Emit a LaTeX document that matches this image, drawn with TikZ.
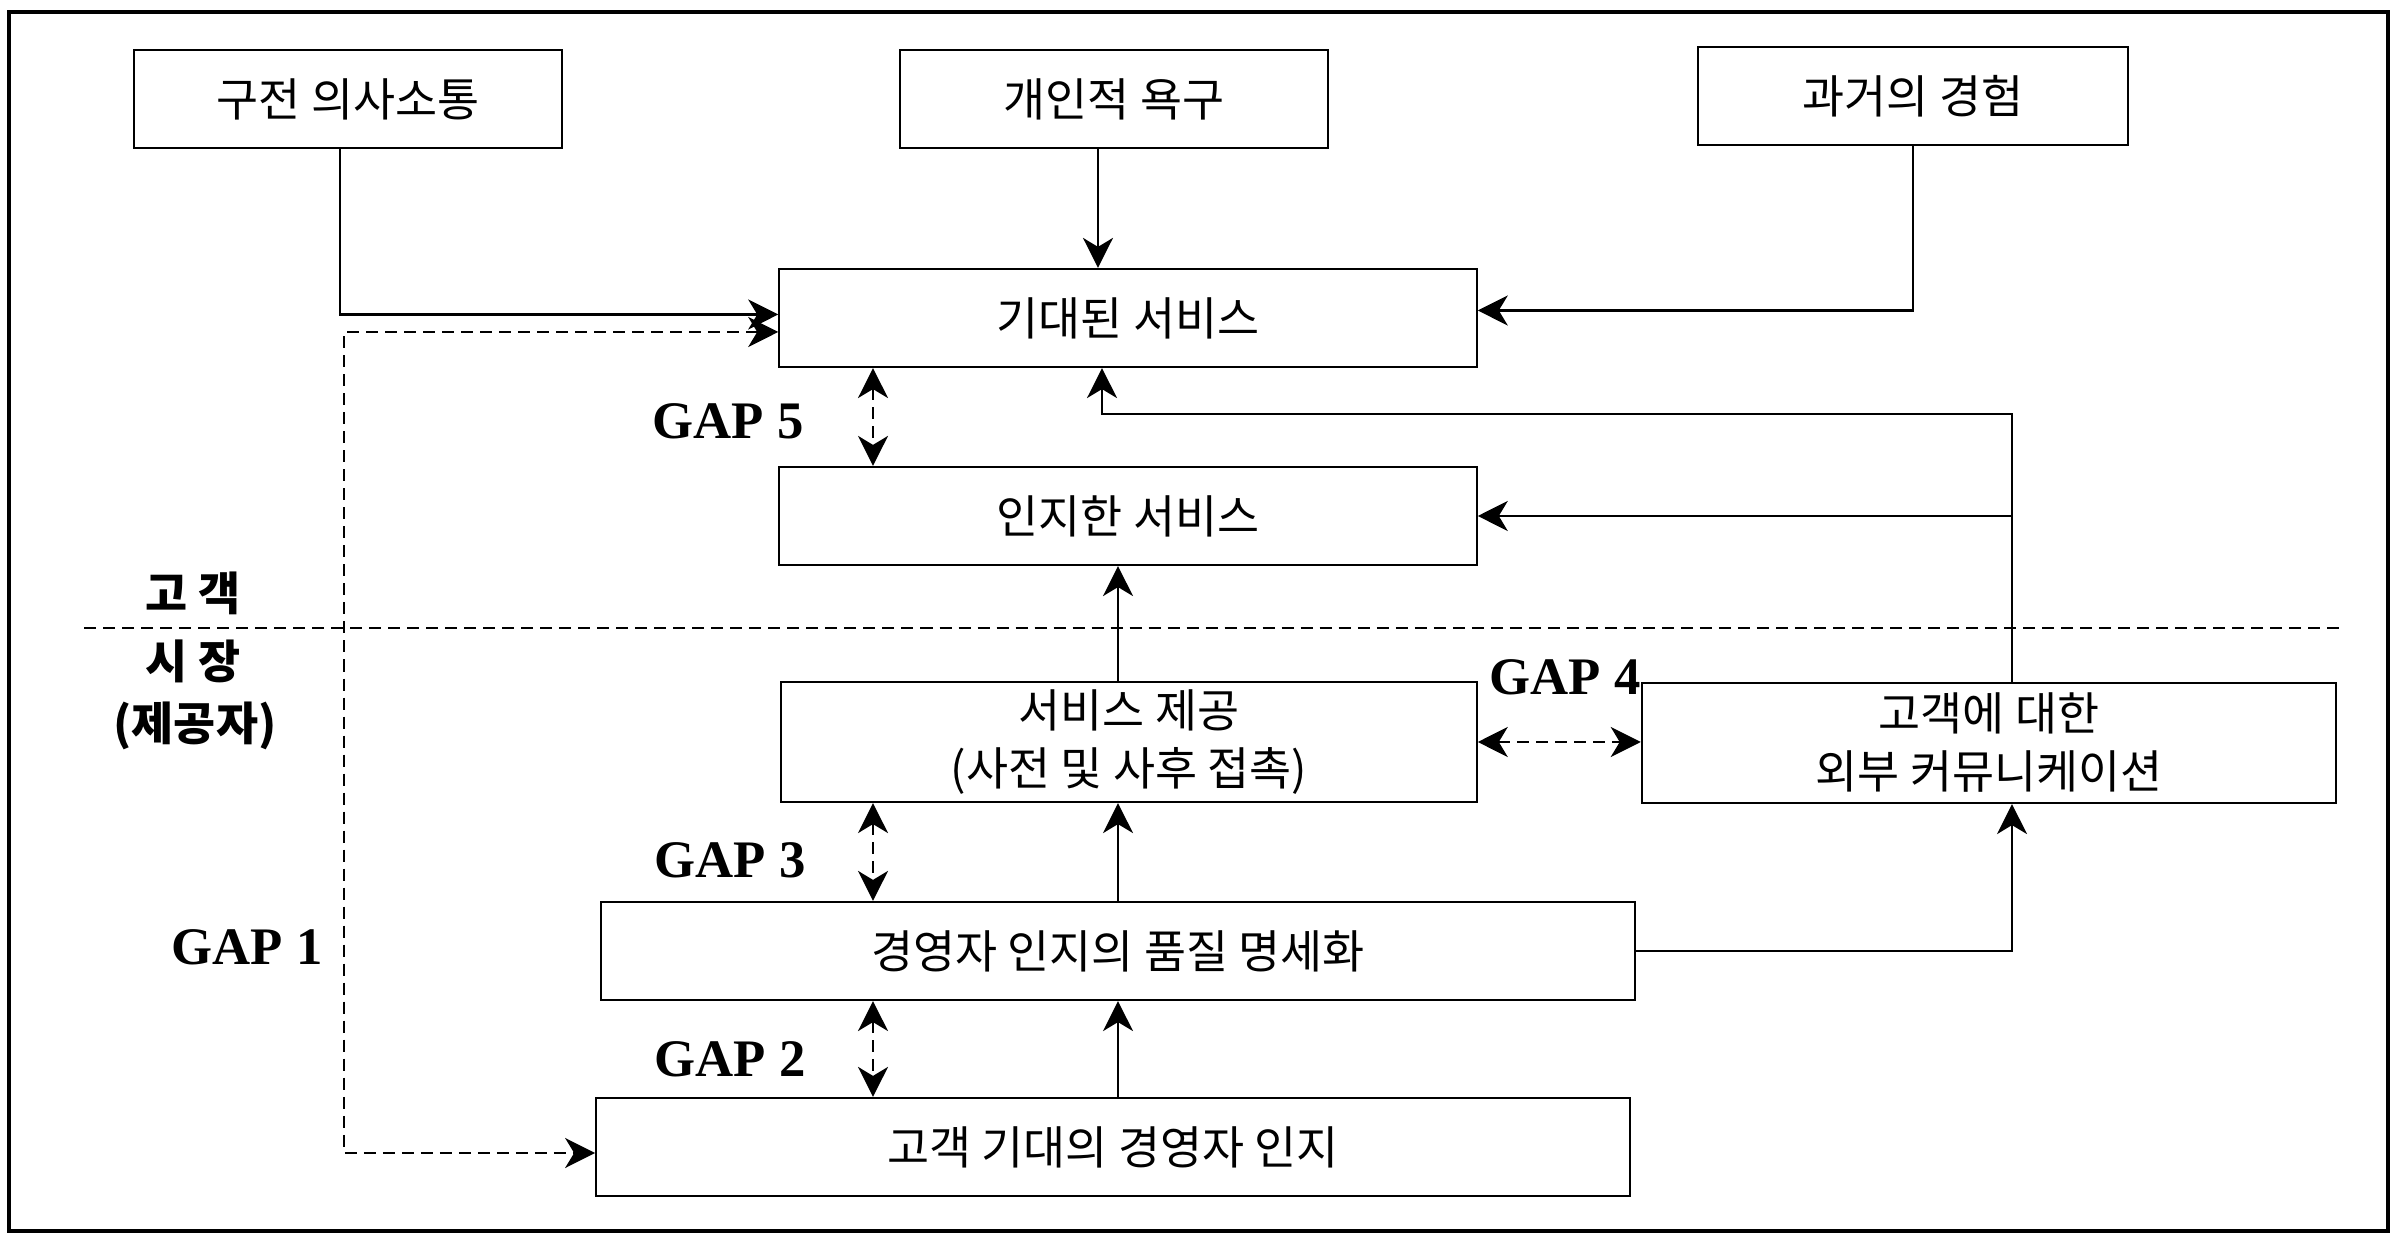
\documentclass[tikz,border=0pt]{standalone}
\usepackage{fontspec}
\setmainfont{Liberation Serif}
\newfontfamily\kr{Noto Sans CJK KR}
\usetikzlibrary{arrows.meta}

\begin{document}
\begin{tikzpicture}[x=0.01cm, y=-0.01cm, line width=0.6pt,
    >={Stealth[length=0.3cm, width=0.3cm, inset=0.09cm]},
    box/.style={draw, minimum height=0.98cm, inner sep=0pt, align=center,
      font=\kr\fontsize{13}{16.5}\selectfont},
    gapline/.style={dash pattern=on 0.12cm off 0.07cm},
    gaplabel/.style={font=\bfseries\fontsize{15}{17}\selectfont},
    side/.style={font=\kr\bfseries\fontsize{13}{15}\selectfont}]
  \useasboundingbox (0,0) rectangle (2396,1237);
  \draw[line width=1.3pt] (9,12) rectangle (2388,1231);
  \node[box, minimum width=4.28cm] (wom) at (348,99) {구전 의사소통};
  \node[box, minimum width=4.28cm] (need) at (1114,99) {개인적 욕구};
  \node[box, minimum width=4.29cm] (past) at (1913,96) {과거의 경험};
  \node[box, minimum width=6.97cm] (expect) at (1128,318) {기대된 서비스};
  \node[box, minimum width=6.97cm] (perceive) at (1128,516) {인지한 서비스};
  \node[box, minimum width=6.95cm, minimum height=1.2cm] (deliver) at (1129,742) {서비스 제공\\(사전 및 사후 접촉)};
  \node[box, minimum width=6.94cm, minimum height=1.2cm] (extcom) at (1989,743) {고객에 대한\\외부 커뮤니케이션};
  \node[box, minimum width=10.34cm] (spec) at (1118,951) {경영자 인지의 품질 명세화};
  \node[box, minimum width=10.33cm] (mgmt) at (1113,1147) {고객 기대의 경영자 인지};
  \node[gaplabel] (gfive) at (728,421) {GAP 5};
  \node[gaplabel] (gfour) at (1565,677) {GAP 4};
  \node[gaplabel] (gthree) at (730,860) {GAP 3};
  \node[gaplabel] (gtwo) at (730,1059) {GAP 2};
  \node[gaplabel] (gone) at (247,947) {GAP 1};
  \node[side] (cust) at (193,593) {고 객};
  \node[side] (market) at (193,661) {시 장};
  \node[side] (provider) at (195,726) {(제공자)};
  \coordinate (divl) at (84,628);
  \coordinate (divr) at (2344,628);
  \coordinate (gtop) at (344,332);
  \coordinate (gbot) at (344,1153);
  \coordinate (gapx) at (873,0);
  \coordinate (midx) at (1118,0);
  \coordinate (fb) at (2012,414);
  \coordinate (fbx) at (1102,0);
  \draw[gapline] (divl) -- (divr);
  \draw[->] ([xshift=-0.08cm]wom.south) |- ([yshift=0.035cm]expect.west);
  \draw[gapline,<->] (gtop -| expect.west) -- (gtop) -- (gbot) -- (gbot -| mgmt.west);
  \draw[->] ([xshift=-0.16cm]need.south) -- ([xshift=-0.16cm]need.south |- expect.north);
  \draw[->] (past.south) |- ([yshift=0.075cm]expect.east);
  \draw[gapline,<->] (gapx |- expect.south) -- (gapx |- perceive.north);
  \draw[->] (fb |- extcom.north) -- (fb) -| (fbx |- expect.south);
  \draw[->] (fb |- perceive.east) -- (perceive.east);
  \draw[->] (midx |- deliver.north) -- (midx |- perceive.south);
  \draw[gapline,<->] (deliver.east) -- (deliver.east -| extcom.west);
  \draw[gapline,<->] (gapx |- deliver.south) -- (gapx |- spec.north);
  \draw[->] (midx |- spec.north) -- (midx |- deliver.south);
  \draw[->] (spec.east) -| (fb |- extcom.south);
  \draw[gapline,<->] (gapx |- spec.south) -- (gapx |- mgmt.north);
  \draw[->] (midx |- mgmt.north) -- (midx |- spec.south);
\end{tikzpicture}
\end{document}
